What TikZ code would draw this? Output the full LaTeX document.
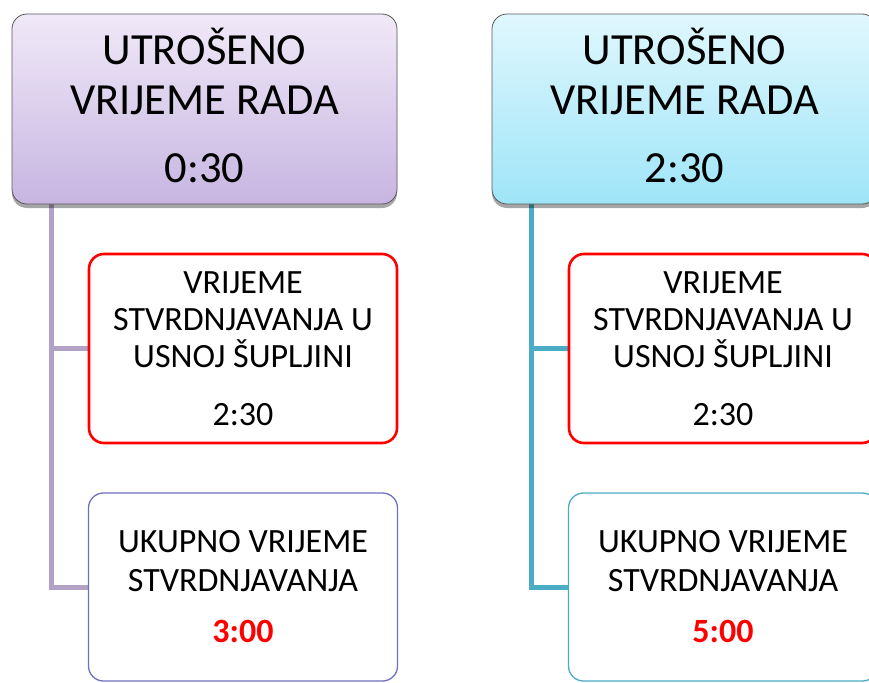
\documentclass[tikz,border=0pt]{standalone}
\usepackage{fontspec}
\setmainfont{Carlito}
\usetikzlibrary{shadows,backgrounds}
\definecolor{lavtop}{HTML}{F0E9F8}
\definecolor{lavbot}{HTML}{C7B5E1}
\definecolor{cyantop}{HTML}{E0F7FD}
\definecolor{cyanbot}{HTML}{9EE5F8}
\definecolor{lavline}{HTML}{B3A2C7}
\definecolor{tealline}{HTML}{4BACC6}
\definecolor{boxpurple}{HTML}{7070C0}
\definecolor{boxred}{HTML}{FF0000}
\tikzset{
  topbox/.style={draw=black!65, line width=0.8pt, rounded corners=15pt,
    minimum width=385pt, minimum height=190pt,
    drop shadow={shadow xshift=0pt, shadow yshift=-4pt, opacity=0.35, fill=black}},
  toptext/.style={align=center, inner sep=0pt, font=\fontsize{44.5}{50}\selectfont},
  redbox/.style={draw=boxred, line width=2.6pt, rounded corners=15pt, fill=white,
    minimum width=308pt, minimum height=189pt, align=center,
    font=\fontsize{34}{37}\selectfont},
  sumbox/.style={line width=1.3pt, rounded corners=15pt, fill=white,
    minimum width=309pt, minimum height=188pt, align=center,
    font=\fontsize{34}{39}\selectfont},
  conn/.style={line width=5pt}
}
\begin{document}
\begin{tikzpicture}[x=1pt,y=1pt]
\useasboundingbox (0,0) rectangle (869,-682);
\clip (0,0) rectangle (869,-682);
% left column
\node[topbox, top color=lavtop, bottom color=lavbot] (lt) at (204.5,-109) {};
\node[toptext] (ltt) at ([yshift=4pt]lt.center) {UTROŠENO\\VRIJEME RADA\\[18pt]0:30};
\node[redbox] (lr) at (243,-348.5)
  {VRIJEME\\STVRDNJAVANJA U\\USNOJ ŠUPLJINI\\[21pt]2:30};
\node[sumbox, draw=boxpurple] (ls) at (243,-587)
  {UKUPNO VRIJEME\\STVRDNJAVANJA\\[12pt]{\bfseries\color{boxred}3:00}};
% right column
\node[topbox, top color=cyantop, bottom color=cyanbot] (rt) at (684.5,-109) {};
\node[toptext] (rtt) at ([yshift=4pt]rt.center) {UTROŠENO\\VRIJEME RADA\\[18pt]2:30};
\node[redbox] (rr) at (723,-348.5)
  {VRIJEME\\STVRDNJAVANJA U\\USNOJ ŠUPLJINI\\[21pt]2:30};
\node[sumbox, draw=tealline] (rs) at (723,-587)
  {UKUPNO VRIJEME\\STVRDNJAVANJA\\[12pt]{\bfseries\color{boxred}5:00}};
\begin{scope}[on background layer]
\draw[conn, lavline] ([xshift=40pt]lt.south west) |- (lr.west);
\draw[conn, lavline] ([xshift=40pt]lt.south west) |- (ls.west);
\draw[conn, tealline] ([xshift=40pt]rt.south west) |- (rr.west);
\draw[conn, tealline] ([xshift=40pt]rt.south west) |- (rs.west);
\end{scope}
\end{tikzpicture}
\end{document}
